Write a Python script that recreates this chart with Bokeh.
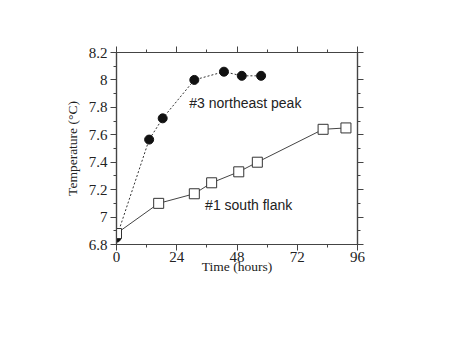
from bokeh.plotting import figure
from bokeh.models import LinearAxis, FixedTicker, Label, Range1d
from bokeh.embed import file_html
from bokeh.resources import INLINE

# Data
ne_time = [0, 13, 18.4, 31, 42.8, 49.9, 57.6]
ne_temp = [6.85, 7.565, 7.72, 8.0, 8.06, 8.03, 8.03]
sf_time = [0, 16.8, 31, 37.9, 48.7, 56.1, 82.3, 91.4]
sf_temp = [6.88, 7.10, 7.17, 7.25, 7.33, 7.40, 7.64, 7.65]

x_ticks = [0, 24, 48, 72, 96]
x_minor = [12, 36, 60, 84]
y_ticks = [6.8, 7.0, 7.2, 7.4, 7.6, 7.8, 8.0, 8.2]
y_tick_labels = ["6.8", "7", "7.2", "7.4", "7.6", "7.8", "8", "8.2"]
y_minor = [6.9, 7.1, 7.3, 7.5, 7.7, 7.9, 8.1]

label_ne = "#3 northeast peak"
label_sf = "#1 south flank"

AX = "#444444"

p = figure(frame_width=241, frame_height=192,
           x_range=Range1d(0, 96), y_range=Range1d(6.8, 8.2),
           output_backend="svg", toolbar_location=None,
           min_border_left=116, min_border_top=52,
           min_border_right=100, min_border_bottom=96)
p.xgrid.visible = False
p.ygrid.visible = False
p.outline_line_color = AX
p.outline_line_width = 1.2

def style(ax, ticks, minor, labels=True, overrides=None):
    ax.ticker = FixedTicker(ticks=ticks, minor_ticks=minor)
    ax.axis_line_color = AX
    ax.axis_line_width = 1.2
    ax.major_tick_line_color = AX
    ax.minor_tick_line_color = AX
    ax.major_tick_in = 0
    ax.major_tick_out = 6
    ax.minor_tick_in = 0
    ax.minor_tick_out = 3
    ax.major_label_text_font = "Liberation Serif"
    ax.major_label_text_font_size = "15px"
    ax.major_label_text_color = "#222222"
    ax.axis_label_text_font = "Liberation Serif"
    ax.axis_label_text_font_size = "13.5px"
    ax.axis_label_text_font_style = "normal"
    ax.axis_label_text_color = "#222222"
    if overrides:
        ax.major_label_overrides = overrides
    if not labels:
        ax.major_label_overrides = {t: "" for t in ticks}
        ax.major_label_standoff = 0

style(p.xaxis[0], x_ticks, x_minor)
p.xaxis[0].axis_label = "Time (hours)"
p.xaxis[0].major_label_standoff = 1
p.xaxis[0].axis_label_standoff = -6
style(p.yaxis[0], y_ticks, y_minor,
      overrides={t: l for t, l in zip(y_ticks, y_tick_labels)})
p.yaxis[0].axis_label = "Temperature (°C)"
p.yaxis[0].major_label_standoff = 3
p.yaxis[0].axis_label_standoff = 6

top = LinearAxis()
style(top, x_ticks, x_minor, labels=False)
p.add_layout(top, "above")
right = LinearAxis()
style(right, y_ticks, y_minor, labels=False)
p.add_layout(right, "right")

p.line(ne_time, ne_temp, line_color="#333333", line_width=1, line_dash="2 2")
p.line(sf_time, sf_temp, line_color="#444444", line_width=1)
p.scatter(ne_time, ne_temp, marker="circle", size=9,
          fill_color="#111111", line_color="#111111")
p.scatter(sf_time, sf_temp, marker="square", size=10,
          fill_color="white", line_color="#333333", line_width=1)

p.add_layout(Label(x=29, y=7.83, text=label_ne, text_font="Liberation Sans",
                   text_font_size="14px", text_color="#222222",
                   text_baseline="middle"))
p.add_layout(Label(x=35.3, y=7.09, text=label_sf, text_font="Liberation Sans",
                   text_font_size="14px", text_color="#222222",
                   text_baseline="middle"))

open("out.html", "w").write(file_html(p, INLINE))
